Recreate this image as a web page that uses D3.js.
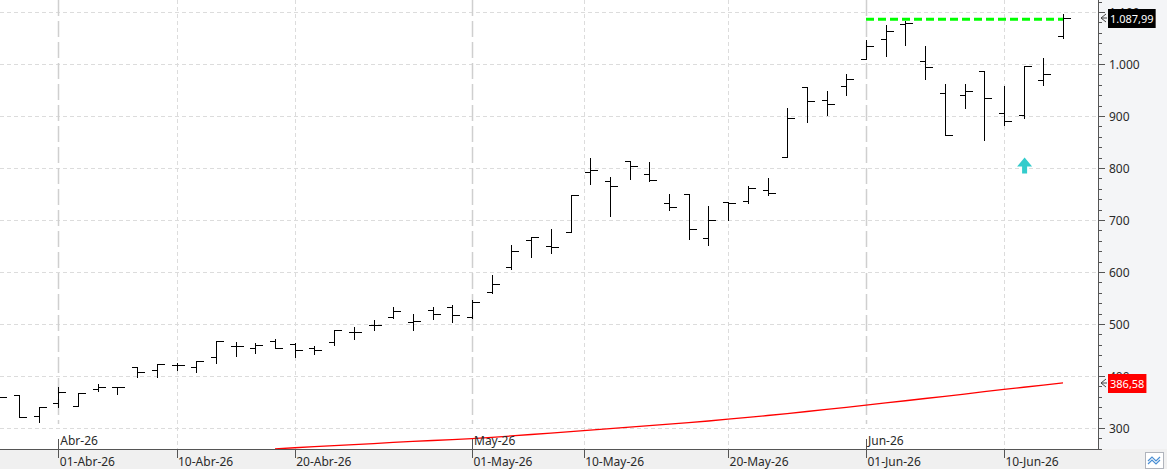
<!DOCTYPE html>
<html>
<head>
<meta charset="utf-8">
<script src="https://cdn.jsdelivr.net/npm/d3@7"></script>
<style>
    body { margin: 0; background: #ffffff; }
    svg { display: block; font-family: "Noto Sans", "DejaVu Sans", sans-serif; }
</style>
</head>
<body>
<div id="chart"></div>
<script>
// Trading days shown on the chart (first three are partly off the left edge)
const tradingDays = [
    '2026-03-27', '2026-03-30', '2026-03-31',
    '2026-04-01', '2026-04-02', '2026-04-06', '2026-04-07', '2026-04-08', '2026-04-09', '2026-04-10',
    '2026-04-13', '2026-04-14', '2026-04-15', '2026-04-16', '2026-04-17',
    '2026-04-20', '2026-04-21', '2026-04-22', '2026-04-23', '2026-04-24',
    '2026-04-27', '2026-04-28', '2026-04-29', '2026-04-30', '2026-05-01',
    '2026-05-04', '2026-05-05', '2026-05-06', '2026-05-07', '2026-05-08',
    '2026-05-11', '2026-05-12', '2026-05-13', '2026-05-14', '2026-05-15',
    '2026-05-18', '2026-05-19', '2026-05-20', '2026-05-21', '2026-05-22',
    '2026-05-26', '2026-05-27', '2026-05-28', '2026-05-29',
    '2026-06-01', '2026-06-02', '2026-06-03', '2026-06-04', '2026-06-05',
    '2026-06-08', '2026-06-09', '2026-06-10', '2026-06-11', '2026-06-12', '2026-06-15'
];

// OHLC series
const opens = [
    362, 363.5, 322.4,
    348.7, 343, 374.4, 378.5, 416.7, 411.5, 421,
    416.7, 435.9, 458.3, 453.2, 467.3,
    461, 453.2, 465.4, 484, 497.5,
    512.8, 503.9, 527, 532.7, 513,
    561.6, 609.6, 662.2, 650.7, 677,
    792.3, 774.4, 813.5, 788.7, 732.6,
    750.5, 665.3, 734.5, 736.4, 757.5,
    821.6, 955.6, 930.6, 957.5,
    1009.5, 1048.1, 1077.5, 1005.8, 944.2,
    940.4, 987.2, 905.8, 901.9, 969.2, 1053.8
];
const highs = [
    366, 364, 339.7,
    378.2, 366.7, 385.3, 379, 416.7, 422.4, 424.3,
    428.8, 466.7, 465.4, 462.8, 471.8,
    463, 458.4, 488.5, 494.9, 507,
    532.7, 518.6, 532, 535.9, 546,
    594.3, 651.9, 666.7, 682.7, 748.7,
    819.2, 783.3, 813.5, 811.5, 750.5,
    750.5, 727.4, 734.5, 765.9, 781.3,
    915.2, 955.6, 948.6, 981.3,
    1046.7, 1075.6, 1083.3, 1035.2, 962.2,
    962.2, 987.2, 958.3, 996.1, 1012.2, 1096.1
];
const lows = [
    355, 321, 312.2,
    341, 343, 371.8, 364.7, 398.7, 398.7, 411.5,
    408.3, 425.6, 439.1, 444.9, 453.2,
    436, 441.7, 459, 471.8, 489.1,
    510.9, 489.1, 509, 503.2, 511,
    559.6, 605.8, 628.2, 636.6, 677,
    769.2, 707.1, 778.9, 775, 718.4,
    662.7, 651.1, 700.5, 732.6, 747.3,
    821.6, 887.7, 902.4, 939.6,
    1009.5, 1014.7, 1035.9, 970.5, 863.5,
    914.7, 853.2, 882.1, 896.1, 958.9, 1049.3
];
const closes = [
    359, 321.5, 339.7,
    368.6, 366.7, 378.2, 378.5, 407.7, 422.4, 421,
    428.8, 466.7, 457, 459, 454.5,
    449.4, 449.4, 488.5, 484, 497.5,
    524.4, 505.2, 519.3, 516.7, 542,
    577, 640.4, 666.7, 648.1, 748.7,
    796.2, 765.4, 804.5, 776.5, 724.8,
    682.6, 699.9, 733.2, 761.4, 751.8,
    896, 929.3, 922.9, 971,
    1034.8, 1063.4, 1078.8, 994.2, 863.5,
    948.7, 934.6, 890.4, 996.1, 980.7, 1087.99
];

// Moving average (red line), null where it lies below the visible range
const maValues = [
    null, null, null,
    null, null, null, null, null, null, null,
    null, null, null, null, 259.7,
    262, 264, 266, 268, 270,
    272.2, 274.1, 276, 277.8, 279.5,
    282, 284.7, 287.5, 290.2, 293,
    295.8, 298.7, 301.6, 304.5, 307.5,
    310.5, 313.5, 317, 320.5, 324,
    327.8, 331.7, 335.7, 339.8,
    344, 348.2, 352.4, 356.7, 361,
    365.3, 369.8, 374.4, 378.4, 382.5, 386.58
];

// Horizontal level line (green) and buy signal marker
const levelValue = 1087.99;
const levelStart = '2026-06-01';
const levelEnd = '2026-06-15';
const signalDates = ['2026-06-11'];
const signalValues = [820];

// Axis ticks
const yMajorTicks = [300, 400, 500, 600, 700, 800, 900, 1000, 1100];
const dateTicks = ['2026-04-01', '2026-04-10', '2026-04-20', '2026-05-01', '2026-05-10', '2026-05-20', '2026-06-01', '2026-06-10'];
const monthTicks = ['2026-04-01', '2026-05-01', '2026-06-01'];
const monthNames = ['Ene', 'Feb', 'Mar', 'Abr', 'May', 'Jun', 'Jul', 'Ago', 'Sep', 'Oct', 'Nov', 'Dic'];

// Layout
const totalWidth = 1167;
const totalHeight = 471;
const plotRight = 1098;
const plotBottom = 449;

const parseDate = d3.timeParse('%Y-%m-%d');
const days = tradingDays.map(parseDate);

const locale = d3.formatLocale({ decimal: ',', thousands: '.', grouping: [3], currency: ['', ''] });
const fmtTick = locale.format(',.0f');
const fmtValue = locale.format(',.2f');

// Scales: x runs on trading-day index, y is linear price
const x = d3.scaleLinear()
    .domain([0, days.length - 1])
    .range([-0.8, 1063]);

const y = d3.scaleLinear()
    .domain([300, 1000])
    .range([428, 64]);

// Position of any calendar date, interpolated between trading days
function dateToX(str) {
    const d = parseDate(str);
    let i = d3.bisectRight(days, d) - 1;
    if (i < 0) i = 0;
    if (i >= days.length - 1) return x(days.length - 1);
    const frac = (d - days[i]) / (days[i + 1] - days[i]);
    return x(i + frac);
}

function dayLabel(str) {
    const d = parseDate(str);
    return d3.timeFormat('%d')(d) + '-' + monthNames[d.getMonth()] + '-' + d3.timeFormat('%y')(d);
}

function monthLabel(str) {
    const d = parseDate(str);
    return monthNames[d.getMonth()] + '-' + d3.timeFormat('%y')(d);
}

const svg = d3.select('#chart')
    .append('svg')
    .attr('width', totalWidth)
    .attr('height', totalHeight);

// Backgrounds
svg.append('rect')
    .attr('x', 0).attr('y', 0)
    .attr('width', totalWidth).attr('height', totalHeight)
    .attr('fill', '#ffffff');

svg.append('rect')
    .attr('x', plotRight).attr('y', 0)
    .attr('width', totalWidth - plotRight).attr('height', plotBottom)
    .attr('fill', '#f4f5f7');

svg.append('rect')
    .attr('x', 0).attr('y', plotBottom)
    .attr('width', totalWidth).attr('height', 20)
    .attr('fill', '#f0f0f0');

svg.append('defs')
    .append('clipPath')
    .attr('id', 'plot-clip')
    .append('rect')
    .attr('x', 0).attr('y', 0)
    .attr('width', plotRight).attr('height', plotBottom);

const plot = svg.append('g').attr('clip-path', 'url(#plot-clip)');

// Horizontal gridlines
plot.selectAll('.hgrid')
    .data(yMajorTicks)
    .enter()
    .append('line')
    .attr('class', 'hgrid')
    .attr('x1', 0)
    .attr('x2', plotRight)
    .attr('y1', d => Math.round(y(d)) + 0.5)
    .attr('y2', d => Math.round(y(d)) + 0.5)
    .attr('stroke', '#dcdcdc')
    .attr('stroke-dasharray', '4,3');

// Vertical gridlines (month starts get the longer dash)
const monthSet = new Set(monthTicks);
plot.selectAll('.vgrid')
    .data(dateTicks)
    .enter()
    .append('line')
    .attr('class', 'vgrid')
    .attr('x1', d => Math.round(dateToX(d)) + 0.5)
    .attr('x2', d => Math.round(dateToX(d)) + 0.5)
    .attr('y1', 0)
    .attr('y2', d => monthSet.has(d) ? 424 : plotBottom)
    .attr('stroke', d => monthSet.has(d) ? '#cfcfcf' : '#dcdcdc')
    .attr('stroke-width', d => monthSet.has(d) ? 1.5 : 1)
    .attr('stroke-dasharray', d => monthSet.has(d) ? '16,5' : '4,3');

// Moving average line
const maLine = d3.line()
    .defined(d => d !== null)
    .x((d, i) => x(i))
    .y(d => y(d));

plot.append('path')
    .datum(maValues)
    .attr('d', maLine)
    .attr('fill', 'none')
    .attr('stroke', '#ff0000')
    .attr('stroke-width', 1.3);

// OHLC bars
const ohlc = tradingDays.map((d, i) => ({
    i: i, o: opens[i], h: highs[i], l: lows[i], c: closes[i]
}));

plot.selectAll('.bar')
    .data(ohlc)
    .enter()
    .append('path')
    .attr('class', 'bar')
    .attr('d', d => {
        const cx = Math.round(x(d.i)) + 0.5;
        const yo = Math.round(y(d.o)) + 0.5;
        const yc = Math.round(y(d.c)) + 0.5;
        return `M${cx - 6},${yo}H${cx}` +
            `M${cx},${Math.round(y(d.h))}V${Math.round(y(d.l)) + 1}` +
            `M${cx},${yc}H${cx + 7}`;
    })
    .attr('fill', 'none')
    .attr('stroke', '#000000')
    .attr('stroke-width', 1.4)
    .attr('shape-rendering', 'crispEdges');

// Green level line
plot.append('line')
    .attr('x1', dateToX(levelStart))
    .attr('x2', dateToX(levelEnd))
    .attr('y1', y(levelValue) + 1)
    .attr('y2', y(levelValue) + 1)
    .attr('stroke', '#00ff00')
    .attr('stroke-width', 3)
    .attr('stroke-dasharray', '8,4');

// Buy signal arrows
plot.selectAll('.signal')
    .data(signalDates)
    .enter()
    .append('path')
    .attr('class', 'signal')
    .attr('transform', (d, i) => `translate(${dateToX(d) + 1},${y(signalValues[i])})`)
    .attr('d', 'M0,0L7.5,9H2.5V16H-2.5V9H-7.5Z')
    .attr('fill', '#33cccc');

// Month labels inside the plot with small ticks
svg.selectAll('.month-tick')
    .data(monthTicks)
    .enter()
    .append('line')
    .attr('x1', d => Math.round(dateToX(d)) + 0.5)
    .attr('x2', d => Math.round(dateToX(d)) + 0.5)
    .attr('y1', 439)
    .attr('y2', plotBottom)
    .attr('stroke', '#555555');

svg.selectAll('.month-label')
    .data(monthTicks)
    .enter()
    .append('text')
    .attr('x', d => dateToX(d) + 2)
    .attr('y', 445)
    .style('font-size', '12px')
    .style('fill', '#2a2a2a')
    .text(d => monthLabel(d));

// Bottom axis line, ticks and labels
svg.append('line')
    .attr('x1', 0).attr('x2', plotRight)
    .attr('y1', plotBottom + 0.5).attr('y2', plotBottom + 0.5)
    .attr('stroke', '#555555');

svg.selectAll('.date-tick')
    .data(dateTicks)
    .enter()
    .append('line')
    .attr('x1', d => Math.round(dateToX(d)) + 0.5)
    .attr('x2', d => Math.round(dateToX(d)) + 0.5)
    .attr('y1', plotBottom)
    .attr('y2', 458)
    .attr('stroke', '#555555');

svg.selectAll('.date-label')
    .data(dateTicks)
    .enter()
    .append('text')
    .attr('x', d => dateToX(d) + 1.5)
    .attr('y', 466)
    .style('font-size', '12px')
    .style('fill', '#2a2a2a')
    .text(d => dayLabel(d));

// Right price axis
svg.append('line')
    .attr('x1', plotRight + 0.5).attr('x2', plotRight + 0.5)
    .attr('y1', 0).attr('y2', plotBottom)
    .attr('stroke', '#555555');

const minorTicks = d3.range(260, 1121, 20).filter(v => v % 100 !== 0);

svg.selectAll('.minor-tick')
    .data(minorTicks)
    .enter()
    .append('line')
    .attr('x1', plotRight)
    .attr('x2', plotRight + 4)
    .attr('y1', d => Math.round(y(d)) + 0.5)
    .attr('y2', d => Math.round(y(d)) + 0.5)
    .attr('stroke', '#555555');

svg.selectAll('.major-tick')
    .data(yMajorTicks)
    .enter()
    .append('line')
    .attr('x1', plotRight)
    .attr('x2', plotRight + 7)
    .attr('y1', d => Math.round(y(d)) + 0.5)
    .attr('y2', d => Math.round(y(d)) + 0.5)
    .attr('stroke', '#555555');

svg.selectAll('.y-label')
    .data(yMajorTicks)
    .enter()
    .append('text')
    .attr('x', plotRight + 11)
    .attr('y', d => y(d) + 4.5)
    .style('font-size', '12px')
    .style('fill', '#2a2a2a')
    .text(d => fmtTick(d));

// Value tags on the price axis; the box is sized to its text
function priceTag(value, bg) {
    const cy = Math.round(y(value));
    svg.append('path')
        .attr('d', `M${plotRight + 8},${cy - 4}L${plotRight + 3},${cy}L${plotRight + 8},${cy + 4}M${plotRight + 3},${cy}H${plotRight + 9}`)
        .attr('fill', 'none')
        .attr('stroke', '#444444')
        .attr('stroke-width', 1);

    const box = svg.append('rect')
        .attr('x', plotRight + 10)
        .attr('y', cy - 9)
        .attr('height', 19)
        .attr('fill', bg);

    const label = svg.append('text')
        .attr('x', plotRight + 12)
        .attr('y', cy + 5)
        .style('font-size', '11px')
        .style('fill', '#ffffff')
        .text(fmtValue(value));

    box.attr('width', label.node().getComputedTextLength() + 4);
}

priceTag(closes[closes.length - 1], '#000000');
priceTag(maValues[maValues.length - 1], '#ff0000');

// Small chart-type button in the corner
const icon = svg.append('g').attr('transform', 'translate(1145,452)');
icon.append('rect')
    .attr('x', 0.5).attr('y', 0.5)
    .attr('width', 18).attr('height', 16)
    .attr('fill', '#ffffff')
    .attr('stroke', '#b0b4bc');
icon.append('path')
    .attr('d', 'M3,9L7,5L11,9L15,5M3,12L7,8L11,12L15,8')
    .attr('fill', 'none')
    .attr('stroke', '#4a8fd4')
    .attr('stroke-width', 1.2);
</script>
</body>
</html>
